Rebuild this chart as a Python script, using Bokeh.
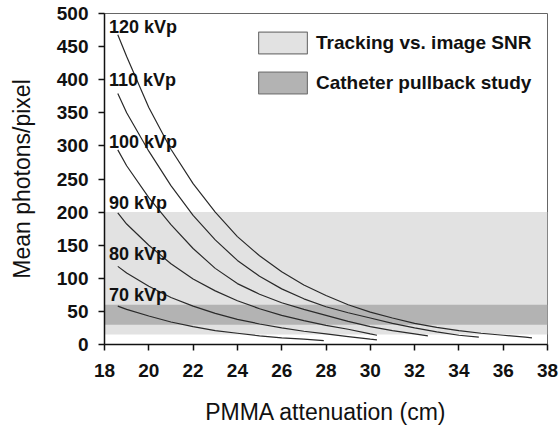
from bokeh.plotting import figure
from bokeh.models import ColumnDataSource, Legend, LegendItem, FixedTicker, Range1d
from bokeh.core.properties import value
from bokeh.embed import file_html
from bokeh.resources import INLINE

# ---- data ----
x120 = [18.6, 19, 20, 21, 22, 23, 24, 25, 26, 27, 28, 29, 30, 31, 32, 33, 34, 35, 36, 37, 37.3]
y120 = [468, 435, 358, 295, 243, 200, 163, 134, 110, 90, 74, 60, 49, 40, 32, 26, 21, 17, 14, 11, 10]

x110 = [18.6, 19, 20, 21, 22, 23, 24, 25, 26, 27, 28, 29, 30, 31, 32, 33, 34, 34.9]
y110 = [379, 350, 292, 240, 195, 158, 127, 103, 84, 69, 57, 48, 40, 32, 25, 19, 14, 11]

x100 = [18.6, 19, 20, 21, 22, 23, 24, 25, 26, 27, 28, 29, 30, 31, 32, 32.6]
y100 = [294, 270, 222, 181, 145, 115, 92, 76, 63, 53, 44, 35, 27, 21, 16, 13]

x90 = [18.6, 19, 20, 21, 22, 23, 24, 25, 26, 27, 28, 29, 30, 30.3]
y90 = [199, 182, 150, 122, 99, 81, 66, 54, 44, 36, 29, 23, 16, 14]

x80 = [18.6, 19, 20, 21, 22, 23, 24, 25, 26, 27, 28, 29, 30, 30.3]
y80 = [118, 108, 88, 71, 58, 47, 38, 31, 25, 20, 16, 12, 8, 7]

x70 = [18.6, 19, 20, 21, 22, 23, 24, 25, 26, 27, 27.9]
y70 = [58, 53, 43, 34, 27, 21, 17, 13, 10, 8, 6]

curve_labels = ["120 kVp", "110 kVp", "100 kVp", "90 kVp", "80 kVp", "70 kVp"]
label_x = [18.2, 18.2, 18.2, 18.2, 18.2, 18.2]
label_y = [479, 399, 306, 214, 137, 75]

band_names = ["Tracking vs. image SNR", "Catheter pullback study"]
band_left = [18, 18]
band_right = [38, 38]
band_bottom = [15, 30]
band_top = [200, 60]
band_colors = ["#e2e2e2", "#b3b3b3"]

x_ticks = [18, 20, 22, 24, 26, 28, 30, 32, 34, 36, 38]
y_ticks = [0, 50, 100, 150, 200, 250, 300, 350, 400, 450, 500]

FONT = "Liberation Sans"

p = figure(width=560, height=429, output_backend="svg", toolbar_location=None,
           x_range=Range1d(18, 38), y_range=Range1d(0, 500),
           min_border_left=104, min_border_right=13, min_border_top=13, min_border_bottom=85)

p.background_fill_color = "white"
p.border_fill_color = "white"
p.outline_line_color = "#666666"
p.outline_line_width = 1
p.xgrid.visible = False
p.ygrid.visible = False

# bands
for i in range(2):
    p.quad(left=[band_left[i]], right=[band_right[i]], bottom=[band_bottom[i]], top=[band_top[i]],
           fill_color=band_colors[i], line_color=None)

# legend-only renderers (hidden in the plot, shown in the legend with a grey border)
legend_items = []
for i in range(2):
    r = p.quad(left=[band_left[i]], right=[band_right[i]], bottom=[band_bottom[i]], top=[band_top[i]],
               fill_color=band_colors[i], line_color="#777777", line_width=1.2)
    r.visible = False
    legend_items.append(LegendItem(label=band_names[i], renderers=[r]))

# curves
for xs, ys in [(x120, y120), (x110, y110), (x100, y100), (x90, y90), (x80, y80), (x70, y70)]:
    p.line(xs, ys, line_color="#2a2a2a", line_width=1.2)

src = ColumnDataSource(dict(x=label_x, y=label_y, t=curve_labels))
p.text(x="x", y="y", text="t", source=src, text_font=value(FONT), text_font_size="18px",
       text_font_style="bold", text_align="left", text_baseline="middle", text_color="#111111")

legend = Legend(items=legend_items, location=(148, 248), orientation="vertical",
                glyph_width=61, glyph_height=27, label_height=27, spacing=13,
                label_standoff=3, padding=0, margin=0,
                label_text_font=FONT, label_text_font_size="19px", label_text_font_style="bold",
                label_text_color="#111111", border_line_color=None, background_fill_alpha=0,
                inactive_fill_alpha=0, click_policy="none")
p.add_layout(legend)

for ax in (p.xaxis, p.yaxis):
    ax.axis_line_color = "#111111"
    ax.axis_line_width = 1.5
    ax.major_tick_line_color = "#111111"
    ax.major_tick_line_width = 1.5
    ax.major_tick_in = 0
    ax.major_tick_out = 6
    ax.minor_tick_line_color = None
    ax.major_label_text_font = FONT
    ax.major_label_text_font_size = "19px"
    ax.major_label_text_font_style = "bold"
    ax.major_label_text_color = "#111111"
    ax.axis_label_text_font = FONT
    ax.axis_label_text_font_size = "23px"
    ax.axis_label_text_font_style = "normal"
    ax.axis_label_text_color = "#111111"

p.xaxis.ticker = FixedTicker(ticks=x_ticks)
p.yaxis.ticker = FixedTicker(ticks=y_ticks)
p.xaxis.axis_label = "PMMA attenuation (cm)"
p.yaxis.axis_label = "Mean photons/pixel"
p.xaxis.major_label_standoff = 13
p.yaxis.major_label_standoff = 10
p.xaxis.axis_label_standoff = 19
p.yaxis.axis_label_standoff = 19

open("out.html", "w").write(file_html(p, INLINE))
